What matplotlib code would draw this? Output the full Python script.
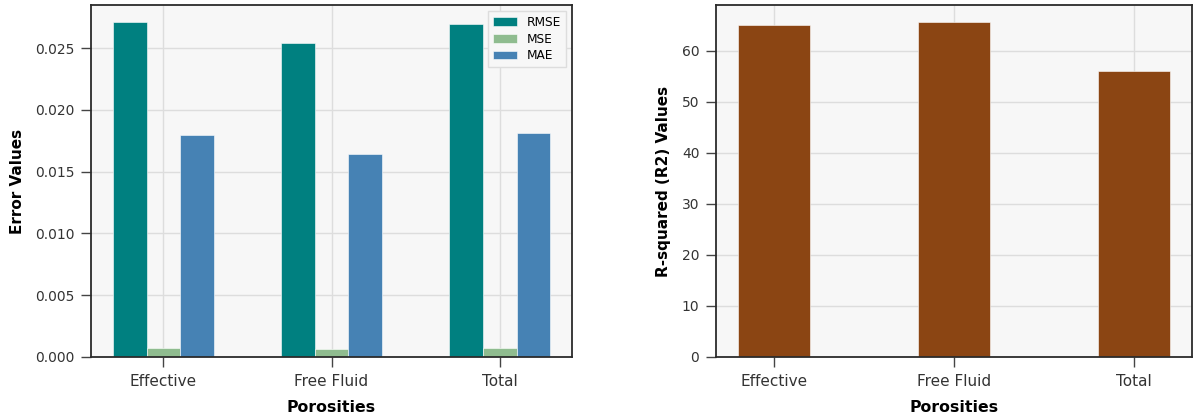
import numpy as np
import matplotlib
matplotlib.use("Agg")
import matplotlib.pyplot as plt

porosities = ["Effective", "Free Fluid", "Total"]
rmse = [0.02714, 0.02543, 0.02695]
mse = [0.00074, 0.00065, 0.00073]
mae = [0.01801, 0.01641, 0.01815]
r2 = [65.0, 65.65, 56.0]

error_series = [("RMSE", rmse, "#008080"), ("MSE", mse, "#8fbc8f"), ("MAE", mae, "#4682b4")]

plt.rcParams.update({
    "font.family": "DejaVu Sans",
    "axes.facecolor": "#f7f7f7",
    "axes.edgecolor": "#2b2b2b",
    "axes.linewidth": 1.3,
    "grid.color": "#dddddd",
    "grid.linewidth": 1.0,
    "xtick.color": "#444444",
    "ytick.color": "#444444",
    "xtick.labelcolor": "#333333",
    "ytick.labelcolor": "#333333",
})

fig = plt.figure(figsize=(11.94, 4.18), dpi=100)
ax1 = fig.add_axes([91 / 1194, 1 - 357 / 418, 481 / 1194, 352 / 418])
ax2 = fig.add_axes([716 / 1194, 1 - 357 / 418, 476 / 1194, 352 / 418])

x = np.arange(len(porosities))
width = 0.2
for i, (name, vals, color) in enumerate(error_series):
    ax1.bar(x + (i - 1) * width, vals, width, label=name, color=color,
            edgecolor="white", linewidth=0.4, zorder=2)
ax1.set_xticks(x)
ax1.set_xticklabels(porosities)
ax1.set_xlabel("Porosities", fontweight="bold", fontsize=11.3, labelpad=8)
ax1.set_ylabel("Error Values", fontweight="bold", fontsize=11, labelpad=7)
ax1.legend(loc="upper right", fontsize=8.7, frameon=True, edgecolor="#dddddd",
           facecolor="#f7f7f7", framealpha=1.0, fancybox=False, labelspacing=0.3)

ax2.bar(x, r2, 0.4, color="#8B4513", edgecolor="white", linewidth=0.4, zorder=2)
ax2.set_xticks(x)
ax2.set_xticklabels(porosities)
ax2.set_xlabel("Porosities", fontweight="bold", fontsize=11.3, labelpad=8)
ax2.set_ylabel("R-squared (R2) Values", fontweight="bold", fontsize=11, labelpad=8)

for ax in (ax1, ax2):
    ax.grid(True, zorder=0)
    ax.set_axisbelow(True)
    ax.tick_params(axis="x", labelsize=11, length=7, width=1.0, pad=5.5)
    ax.tick_params(axis="y", labelsize=10, length=7, width=1.0, pad=5)

fig.savefig("out.png", dpi=100)
